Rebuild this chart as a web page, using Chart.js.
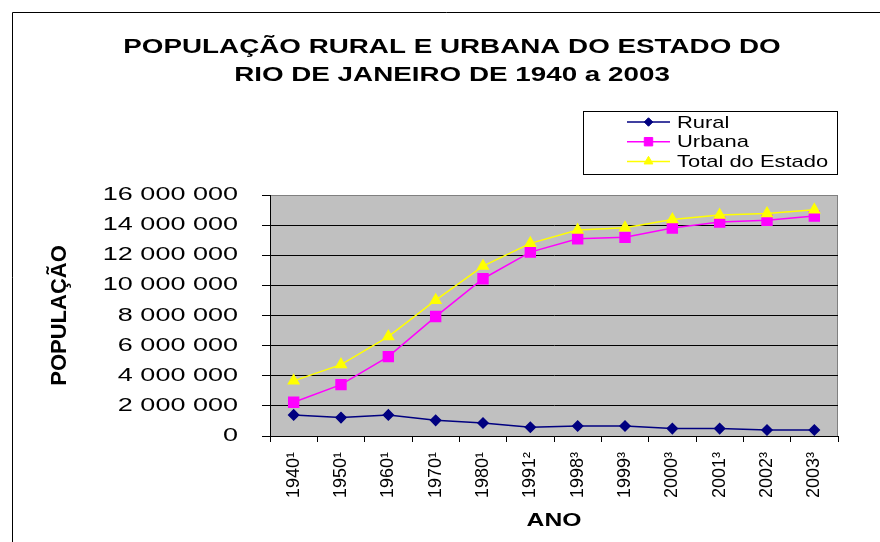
<!DOCTYPE html>
<html>
<head>
<meta charset="utf-8">
<title>População rural e urbana do Estado do Rio de Janeiro</title>
<script src="https://cdn.jsdelivr.net/npm/chart.js@4/dist/chart.umd.min.js"></script>
<style>
  html, body { margin: 0; padding: 0; background: #fff; }
  canvas { display: block; }
</style>
</head>
<body>
<canvas id="chart" width="880" height="542"></canvas>
<script>
const anos = ['1940¹', '1950¹', '1960¹', '1970¹', '1980¹', '1991²', '1998³', '1999³', '2000³', '2001³', '2002³', '2003³'];
const rural = [1400000, 1220000, 1400000, 1040000, 860000, 580000, 660000, 660000, 490000, 490000, 400000, 400000];
const urbana = [2240000, 3410000, 5270000, 7930000, 10440000, 12210000, 13100000, 13190000, 13810000, 14200000, 14320000, 14600000];
const total = [3660000, 4740000, 6600000, 9020000, 11280000, 12790000, 13670000, 13830000, 14380000, 14670000, 14780000, 15020000];
const yTicks = [0, 2000000, 4000000, 6000000, 8000000, 10000000, 12000000, 14000000, 16000000];
const titulo = ['POPULAÇÃO RURAL E URBANA DO ESTADO DO', 'RIO DE JANEIRO DE 1940 a 2003'];

const FONT = "'Liberation Sans', Arial, sans-serif";

const fmt = v => String(v).replace(/\B(?=(\d{3})+(?!\d))/g, ' ');

// the old chart has its horizontal text stretched sideways
function wideText(ctx, text, x, y, sx, align) {
  ctx.save();
  ctx.translate(x, y);
  ctx.scale(sx, 1);
  ctx.textAlign = align;
  ctx.fillText(text, 0, 0);
  ctx.restore();
}

const frame = {
  id: 'frame',
  beforeDraw(chart) {
    const { ctx, chartArea: a } = chart;
    ctx.save();
    ctx.fillStyle = '#c0c0c0';
    ctx.fillRect(a.left, a.top, a.right - a.left, a.bottom - a.top);
    ctx.strokeStyle = '#808080';
    ctx.lineWidth = 1;
    ctx.beginPath();
    ctx.moveTo(a.left, a.top + 0.5);
    ctx.lineTo(a.right - 0.5, a.top + 0.5);
    ctx.lineTo(a.right - 0.5, a.bottom);
    ctx.stroke();
    ctx.strokeStyle = '#000';
    ctx.beginPath();
    ctx.moveTo(12.5, chart.height);
    ctx.lineTo(12.5, 12.5);
    ctx.lineTo(chart.width, 12.5);
    ctx.stroke();
    ctx.restore();
  },
  afterDraw(chart) {
    const ctx = chart.ctx;
    const a = chart.chartArea;
    const y = chart.scales.y;
    ctx.save();
    ctx.fillStyle = '#000';
    ctx.textBaseline = 'middle';

    // title
    ctx.font = 'bold 20px ' + FONT;
    titulo.forEach((t, i) => wideText(ctx, t, 452, 47 + i * 28, 1.39, 'center'));

    // y tick labels
    ctx.font = '18.5px ' + FONT;
    y.ticks.forEach(t => wideText(ctx, fmt(t.value), 238, y.getPixelForValue(t.value), 1.46, 'right'));

    // x axis title
    ctx.font = 'bold 19px ' + FONT;
    wideText(ctx, 'ANO', (a.left + a.right) / 2, 521, 1.3, 'center');

    // y axis title
    ctx.save();
    ctx.font = 'bold 22px ' + FONT;
    ctx.textAlign = 'center';
    ctx.translate(60, (a.top + a.bottom) / 2);
    ctx.rotate(-Math.PI / 2);
    ctx.fillText('POPULAÇÃO', 0, 0);
    ctx.restore();

    // legend box
    ctx.fillStyle = '#fff';
    ctx.fillRect(583, 111, 255, 64);
    ctx.strokeStyle = '#000';
    ctx.lineWidth = 1;
    ctx.strokeRect(583.5, 111.5, 254, 63);
    ctx.font = '17px ' + FONT;
    chart.data.datasets.forEach((ds, i) => {
      const ly = 122 + i * 19.7;
      ctx.strokeStyle = ds.borderColor;
      ctx.lineWidth = 1.5;
      ctx.beginPath();
      ctx.moveTo(627, ly);
      ctx.lineTo(670, ly);
      ctx.stroke();
      ctx.fillStyle = ds.pointBackgroundColor;
      ctx.strokeStyle = ds.pointBorderColor;
      ctx.lineWidth = 1;
      Chart.helpers.drawPoint(ctx, { pointStyle: ds.pointStyle, radius: ds.pointRadius * 0.85, rotation: 0, borderWidth: 1 }, 648.5, ly);
      ctx.fillStyle = '#000';
      wideText(ctx, ds.label, 677, ly + 1, 1.29, 'left');
    });
    ctx.restore();
  }
};

Chart.defaults.color = '#000';
Chart.defaults.font.family = FONT;

new Chart(document.getElementById('chart'), {
  type: 'line',
  data: {
    labels: anos,
    datasets: [
      {
        label: 'Rural',
        data: rural,
        borderColor: '#000080',
        pointBackgroundColor: '#000080',
        pointBorderColor: '#000080',
        pointStyle: 'rectRot',
        pointRadius: 5,
        borderWidth: 1.5,
        order: 3
      },
      {
        label: 'Urbana',
        data: urbana,
        borderColor: '#ff00ff',
        pointBackgroundColor: '#ff00ff',
        pointBorderColor: '#ff00ff',
        pointStyle: 'rect',
        pointRadius: 7,
        borderWidth: 1.5,
        order: 2
      },
      {
        label: 'Total do Estado',
        data: total,
        borderColor: '#ffff00',
        pointBackgroundColor: '#ffff00',
        pointBorderColor: '#ffff00',
        pointStyle: 'triangle',
        pointRadius: 6,
        borderWidth: 1.5,
        order: 1
      }
    ]
  },
  options: {
    responsive: false,
    animation: false,
    events: [],
    layout: { padding: { left: 66, right: 42, top: 195, bottom: 0 } },
    elements: { line: { tension: 0 } },
    plugins: {
      legend: { display: false },
      tooltip: { enabled: false },
      title: { display: false }
    },
    scales: {
      x: {
        offset: true,
        afterFit(scale) { scale.height = 106; },
        grid: { display: true, drawOnChartArea: false, drawTicks: true, tickLength: 6, offset: true, color: '#000' },
        border: { display: true, color: '#000' },
        ticks: { autoSkip: false, minRotation: 90, maxRotation: 90, padding: 10, color: '#000', font: { size: 18 } }
      },
      y: {
        min: 0,
        max: 16000000,
        afterFit(scale) { scale.width = 204; },
        afterBuildTicks(scale) { scale.ticks = yTicks.map(v => ({ value: v })); },
        grid: {
          color: c => (c.tick && c.tick.value === 16000000 ? '#808080' : '#000'),
          tickColor: '#000',
          tickLength: 8,
          lineWidth: 1
        },
        border: { display: true, color: '#000' },
        ticks: { display: false }
      }
    }
  },
  plugins: [frame]
});
</script>
</body>
</html>
